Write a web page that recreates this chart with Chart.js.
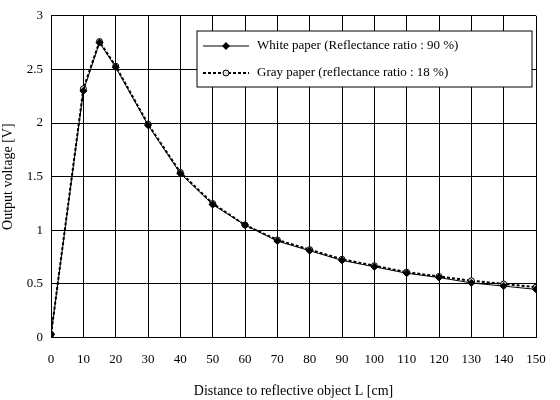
<!DOCTYPE html>
<html><head><script src="https://cdn.jsdelivr.net/npm/chart.js@4"></script>
<style>html,body{margin:0;background:#fff}#w{width:560px;height:400px}</style></head>
<body><div id="w"><canvas id="c"></canvas></div>
<script>
const distances=[0,10,15,20,30,40,50,60,70,80,90,100,110,120,130,140,150];
const whitePaper=[0.03,2.3,2.75,2.52,1.98,1.53,1.24,1.05,0.9,0.81,0.72,0.66,0.6,0.56,0.51,0.48,0.45];
const grayPaper=[0.03,2.32,2.76,2.53,1.99,1.54,1.25,1.05,0.91,0.82,0.73,0.67,0.61,0.57,0.53,0.5,0.47];
const labels=['White paper (Reflectance ratio : 90 %)','Gray paper (reflectance ratio : 18 %)'];
const F='Liberation Serif';
const legendBox={id:'lb',afterDraw(ch){
 const ctx=ch.ctx,a=ch.chartArea;
 const x0=197,y0=31,w=a.right-x0-4,h=56;
 ctx.save();ctx.fillStyle='#fff';ctx.fillRect(x0,y0,w,h);ctx.strokeStyle='#000';ctx.lineWidth=1;ctx.strokeRect(x0,y0,w,h);
 ctx.font='13px "'+F+'"';ctx.fillStyle='#000';ctx.textBaseline='middle';
 [0,1].forEach(i=>{const y=y0+15+i*27;ctx.beginPath();ctx.setLineDash(i?[3,2]:[]);ctx.lineWidth=i?2:1;ctx.moveTo(x0+6,y);ctx.lineTo(x0+52,y);ctx.stroke();ctx.setLineDash([]);
 ctx.lineWidth=1;ctx.beginPath();if(i){ctx.arc(x0+29,y,3,0,7);ctx.fillStyle='#ddd';ctx.fill();ctx.stroke();}else{ctx.moveTo(x0+29,y-4);ctx.lineTo(x0+33,y);ctx.lineTo(x0+29,y+4);ctx.lineTo(x0+25,y);ctx.closePath();ctx.fillStyle='#000';ctx.fill();}
 ctx.fillStyle='#000';ctx.fillText(labels[i],x0+60,y);});
 ctx.restore();}};
new Chart(document.getElementById('c'),{type:'line',
data:{datasets:[
{label:labels[0],data:distances.map((d,i)=>({x:d,y:whitePaper[i]})),borderColor:'#000',borderWidth:1,pointStyle:'rectRot',pointRadius:3.5,pointBackgroundColor:'#000',pointBorderColor:'#000'},
{label:labels[1],data:distances.map((d,i)=>({x:d,y:grayPaper[i]})),borderColor:'#000',borderWidth:2,borderDash:[3,2],pointStyle:'circle',pointRadius:3,pointBackgroundColor:'#ddd',pointBorderColor:'#000',pointBorderWidth:1}]},
options:{responsive:true,maintainAspectRatio:false,animation:false,
layout:{padding:{top:3,right:24,left:0,bottom:0}},
plugins:{legend:{display:false},tooltip:{enabled:false}},
scales:{x:{type:'linear',min:0,max:150,ticks:{stepSize:10,color:'#000',font:{family:F,size:13},maxRotation:0,padding:14},grid:{color:'#000',drawTicks:false},border:{color:'#000'},title:{display:true,text:'Distance to reflective object L [cm]',color:'#000',font:{family:F,size:14},padding:{top:2,bottom:0}}},
y:{min:0,max:3,ticks:{stepSize:0.5,color:'#000',font:{family:F,size:13},padding:8,callback:v=>String(v)},grid:{color:'#000',drawTicks:false},border:{color:'#000'},title:{display:true,text:'Output voltage [V]',color:'#000',font:{family:F,size:14},padding:{top:0,bottom:2}}}}},
plugins:[legendBox]});
</script></body></html>
